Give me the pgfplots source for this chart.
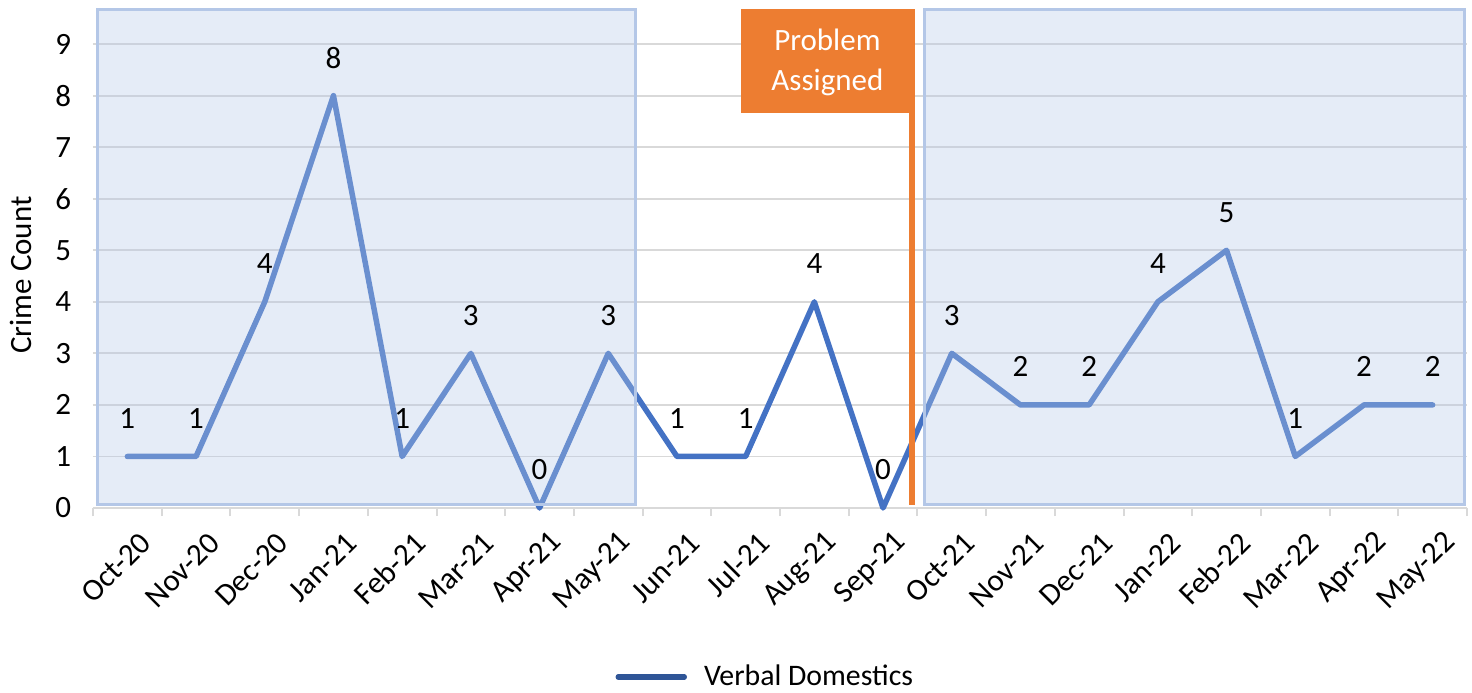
\documentclass[border=0pt]{standalone}
\usepackage{pgfplots}
\pgfplotsset{compat=1.18}
\usepackage{fontspec}
\setmainfont{Carlito}

\definecolor{lineblue}{RGB}{68,114,196}
\definecolor{legblue}{RGB}{47,85,151}
\definecolor{shadeblue}{RGB}{180,199,231}
\definecolor{orng}{RGB}{237,125,49}
\definecolor{gridgray}{RGB}{217,217,217}

\begin{document}
\begin{tikzpicture}
\path[use as bounding box] (0,0) rectangle (736pt,346pt);
\begin{axis}[
  at={(46.5pt,92pt)}, anchor=south west,
  scale only axis,
  width=687pt, height=250pt,
  xmin=-0.5, xmax=19.5,
  ymin=0, ymax=9.7,
  clip=false,
  axis x line*=bottom, axis y line*=left,
  y axis line style={draw=none},
  x axis line style={draw=gridgray, line width=1pt, -},
  xtick={0,...,19},
  xticklabels={Oct-20,Nov-20,Dec-20,Jan-21,Feb-21,Mar-21,Apr-21,May-21,Jun-21,Jul-21,Aug-21,Sep-21,Oct-21,Nov-21,Dec-21,Jan-22,Feb-22,Mar-22,Apr-22,May-22},
  minor xtick={-0.5,0.5,...,19.5},
  major x tick style={draw=none},
  minor x tick style={draw=gridgray, line width=1pt},
  minor tick length=4pt,
  tick align=outside,
  ytick={0,...,9},
  major y tick style={draw=none},
  ymajorgrids,
  grid style={draw=gridgray, line width=0.9pt},
  /pgf/number format/assume math mode=true,
  tick label style={font=\fontsize{15.5}{18}\selectfont, text=black},
  yticklabel style={inner sep=0pt, xshift=-6.5pt},
  xticklabel style={rotate=45, anchor=east, inner sep=0pt, xshift=-1pt, yshift=-14pt, font=\fontsize{15.5}{18}\selectfont},
  ylabel={Crime Count},
  ylabel style={at={(axis description cs:-0.0524,0.466)}, anchor=center, rotate=0, font=\fontsize{15.5}{18}\selectfont},
  legend style={at={(0.49,-0.338)}, anchor=center, draw=none, fill=none,
    font=\fontsize{14.9}{18}\selectfont, legend cell align=left},
  legend image code/.code={\draw[line width=2.75pt, legblue] (0pt,0pt) -- (33pt,0pt); \path (39.5pt,0pt);},
]
\addplot[lineblue, line width=2.75pt, line join=round, line cap=round,
  nodes near coords,
  nodes near coords style={anchor=center, yshift=19pt, font=\fontsize{15.5}{18}\selectfont, text=black},
  ] coordinates {
  (0,1) (1,1) (2,4) (3,8) (4,1) (5,3) (6,0) (7,3) (8,1) (9,1)
  (10,4) (11,0) (12,3) (13,2) (14,2) (15,4) (16,5) (17,1) (18,2) (19,2)
};
\addlegendentry{Verbal Domestics}

% shaded periods
\fill[shadeblue, fill opacity=0.34] (axis cs:-0.44,0.06) rectangle (axis cs:7.40,9.68);
\draw[shadeblue, line width=1.5pt] (axis cs:-0.44,0.06) rectangle (axis cs:7.40,9.68);
\fill[shadeblue, fill opacity=0.34] (axis cs:11.6,0.06) rectangle (axis cs:19.47,9.68);
\draw[shadeblue, line width=1.5pt] (axis cs:11.6,0.06) rectangle (axis cs:19.47,9.68);

% problem assigned marker
\draw[orng, line width=3pt] (axis cs:11.42,0.06) -- (axis cs:11.42,9.68);
\fill[orng] (axis cs:8.93,7.66) rectangle (axis cs:11.46,9.68);
\node[text=white, align=center, font=\fontsize{15.5}{20}\selectfont] at (axis cs:10.19,8.65) {Problem\\Assigned};
\end{axis}
\end{tikzpicture}
\end{document}
